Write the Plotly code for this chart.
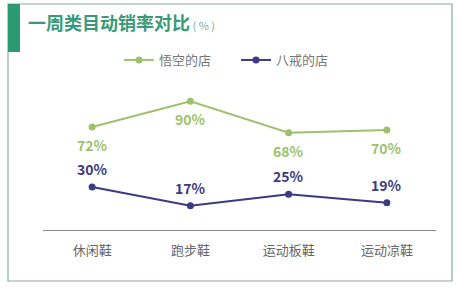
import plotly.graph_objects as go

categories = ["休闲鞋", "跑步鞋", "运动板鞋", "运动凉鞋"]
wukong = [72, 90, 68, 70]
bajie = [30, 17, 25, 19]
series_names = ["悟空的店", "八戒的店"]

GREEN = "#9cc26c"
NAVY = "#3c3a80"
FONT = "Noto Sans CJK SC"

# plot area in pixels: x 43..436, y 87..230
W, H = 462, 289
L, R, T, B = 43, 26, 87, 59
PW, PH = W - L - R, H - T - B


def px(x):
    return (x - L) / PW


def py(y):
    return (H - B - y) / PH


xs = list(range(len(categories)))

fig = go.Figure()
fig.add_trace(go.Scatter(
    x=xs, y=wukong, name=series_names[0], mode="lines+markers",
    line=dict(color=GREEN, width=2), marker=dict(color=GREEN, size=7),
))
fig.add_trace(go.Scatter(
    x=xs, y=bajie, name=series_names[1], mode="lines+markers",
    line=dict(color=NAVY, width=2), marker=dict(color=NAVY, size=7),
))

annotations = []
for x, v in zip(xs, wukong):
    annotations.append(dict(x=x, y=v, text=f"<b>{v}%</b>", showarrow=False,
                            yshift=-18, font=dict(family=FONT, size=14, color=GREEN)))
for x, v in zip(xs, bajie):
    annotations.append(dict(x=x, y=v, text=f"<b>{v}%</b>", showarrow=False,
                            yshift=18, font=dict(family=FONT, size=14, color=NAVY)))

# title
annotations.append(dict(
    xref="paper", yref="paper", x=px(26), y=py(22), xanchor="left", yanchor="middle",
    text="<b>一周类目动销率对比</b><span style='font-size:11px;color:#7fa99a'> ( % )</span>",
    showarrow=False, font=dict(family=FONT, size=18, color="#3a9a78"),
))

shapes = [
    # outer frame
    dict(type="rect", xref="paper", yref="paper",
         x0=px(8), x1=px(452), y0=py(281), y1=py(4),
         line=dict(color="#8aaa9e", width=1.2), fillcolor="rgba(0,0,0,0)", layer="below"),
    # green title block
    dict(type="rect", xref="paper", yref="paper",
         x0=px(8), x1=px(20), y0=py(52), y1=py(4),
         line=dict(width=0), fillcolor="#2b9a72", layer="below"),
]

fig.update_layout(
    width=W, height=H,
    margin=dict(l=L, r=R, t=T, b=B, autoexpand=False),
    paper_bgcolor="white", plot_bgcolor="white",
    font=dict(family=FONT),
    showlegend=True,
    legend=dict(orientation="h", x=px(119), y=py(60), xanchor="left", yanchor="middle",
                font=dict(family=FONT, size=13, color="#777777"),
                itemwidth=30, tracegroupgap=0, bgcolor="rgba(0,0,0,0)",
                entrywidth=72),
    xaxis=dict(range=[-0.5, 3.5], tickvals=xs, ticktext=categories,
               showgrid=False, zeroline=False, showline=True, linecolor="#888888",
               linewidth=1, ticks="", ticklabelstandoff=8,
               tickfont=dict(family=FONT, size=13, color="#666666")),
    yaxis=dict(range=[0, 100], visible=False, showgrid=False, zeroline=False),
    annotations=annotations,
    shapes=shapes,
)

fig.write_html("out.html")
